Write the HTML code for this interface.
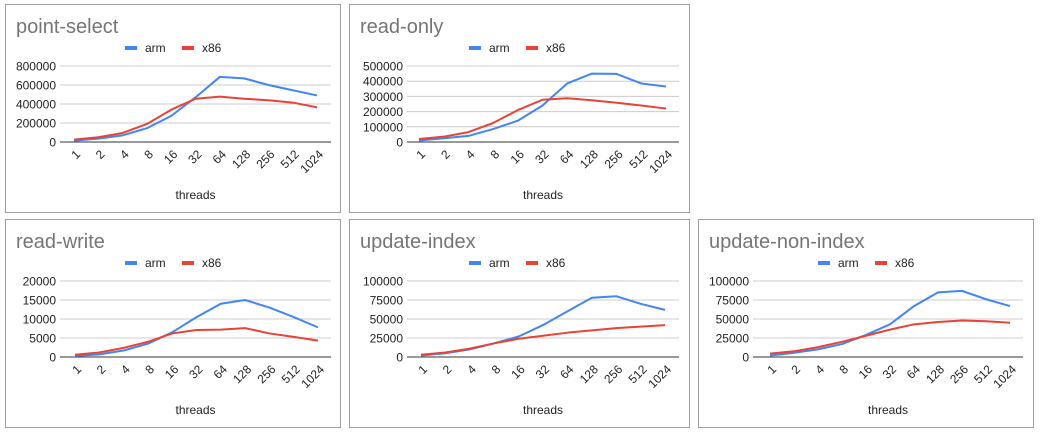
<!DOCTYPE html>
<html><head><meta charset="utf-8"><style>
html,body{margin:0;padding:0;background:#fff;}
body{width:1041px;height:437px;position:relative;overflow:hidden;font-family:"Liberation Sans",Arial,sans-serif;}
svg{position:absolute;left:0;top:0;}
</style></head><body>
<svg id="s" width="1041" height="437"></svg>
<script>
const categories=["1","2","4","8","16","32","64","128","256","512","1024"];
const psArm=[15000,35000,70000,145000,275000,470000,685000,670000,600000,545000,490000];
const psX86=[25000,50000,95000,190000,340000,455000,478000,455000,440000,415000,365000];
const psTicks=[0,200000,400000,600000,800000];
const roArm=[10000,25000,40000,85000,140000,240000,385000,450000,448000,385000,365000];
const roX86=[20000,35000,65000,125000,210000,278000,288000,275000,258000,240000,220000];
const roTicks=[0,100000,200000,300000,400000,500000];
const rwArm=[300,700,1700,3500,6500,10500,14000,15000,13000,10500,7800];
const rwX86=[600,1200,2400,4000,6200,7100,7200,7600,6200,5300,4300];
const rwTicks=[0,5000,10000,15000,20000];
const uiArm=[2000,5000,10000,18000,27000,42000,60000,78000,80000,70000,62000];
const uiX86=[3000,6000,11000,18000,24000,28000,32000,35000,38000,40000,42000];
const uiTicks=[0,25000,50000,75000,100000];
const unArm=[2000,5500,10000,17000,29000,43000,67000,85000,87000,76000,67000];
const unX86=[4500,7500,13000,20000,28000,36000,43000,46000,48000,47000,45000];
const unTicks=[0,25000,50000,75000,100000];

const NS="http://www.w3.org/2000/svg";
const svg=document.getElementById('s');
function mk(p,tag,attrs,txt){const e=document.createElementNS(NS,tag);for(const k in attrs)e.setAttribute(k,attrs[k]);if(txt!==undefined)e.textContent=txt;p.appendChild(e);return e;}

function chart(id,title,x0,y0,w,h,gL,gR,p0,p10,arm,x86,ticks){
  const g=mk(svg,'g',{transform:`translate(${x0},${y0})`});
  
  
  const box=mk(g,'rect',{x:0.5,y:0.5,width:w,height:h,fill:'#fff',stroke:'#9e9e9e'});
  
  
  const t=mk(g,'text',{x:11,y:29,'font-size':20,fill:'#757575'},title);
  
  
  const la=mk(g,'rect',{x:120,y:42,width:12,height:4,fill:'#4285f4'});
  
  
  const lat=mk(g,'text',{x:140,y:48,'font-size':12,fill:'#222'},'arm');
  
  
  const lx=mk(g,'rect',{x:177,y:42,width:12,height:4,fill:'#ea4335'});
  
  
  const lxt=mk(g,'text',{x:197,y:48,'font-size':12,fill:'#222'},'x86');
  
  
  const top=62,bot=138,max=ticks[ticks.length-1];
  const Y=v=>bot-(v/max)*(bot-top);
  const X=i=>p0+i*(p10-p0)/(categories.length-1);
  ticks.forEach(v=>{
    const l=mk(g,'line',{x1:gL,x2:gR,y1:Y(v),y2:Y(v),stroke:v===0?'#333':'#ccc','stroke-width':1});
    
    
    const tt=mk(g,'text',{x:gL-4,y:Y(v)+4.5,'font-size':12,fill:'#222','text-anchor':'end'},String(v));
    
    
  });
  categories.forEach((c,i)=>{
    const xx=X(i)+7,yy=bot+13;
    const tt=mk(g,'text',{x:xx,y:yy,'font-size':12,fill:'#222','text-anchor':'end',transform:`rotate(-45 ${xx} ${yy})`},c);
    
    
  });
  const xt=mk(g,'text',{x:(gL+gR)/2,y:195,'font-size':12,fill:'#222','text-anchor':'middle'},'threads');
  
  
  [[arm,'#4285f4','arm'],[x86,'#ea4335','x86']].forEach(([d,col,n])=>{
    const pl=mk(g,'polyline',{points:d.map((v,i)=>X(i)+','+Y(v)).join(' '),fill:'none',stroke:col,'stroke-width':2,'stroke-linejoin':'round'});
    
    
  });
}
chart('point-select','point-select',5,4,335,208,55,326,69,312,psArm,psX86,psTicks);
chart('read-only','read-only',349,4,340,208,58,330,70,317,roArm,roX86,roTicks);
chart('read-write','read-write',5,219,335,208,55,326,70,313,rwArm,rwX86,rwTicks);
chart('update-index','update-index',349,219,340,208,58,330,72,316,uiArm,uiX86,uiTicks);
chart('update-non-index','update-non-index',698,219,335,208,55,325,72,312,unArm,unX86,unTicks);
</script>
</body></html>
